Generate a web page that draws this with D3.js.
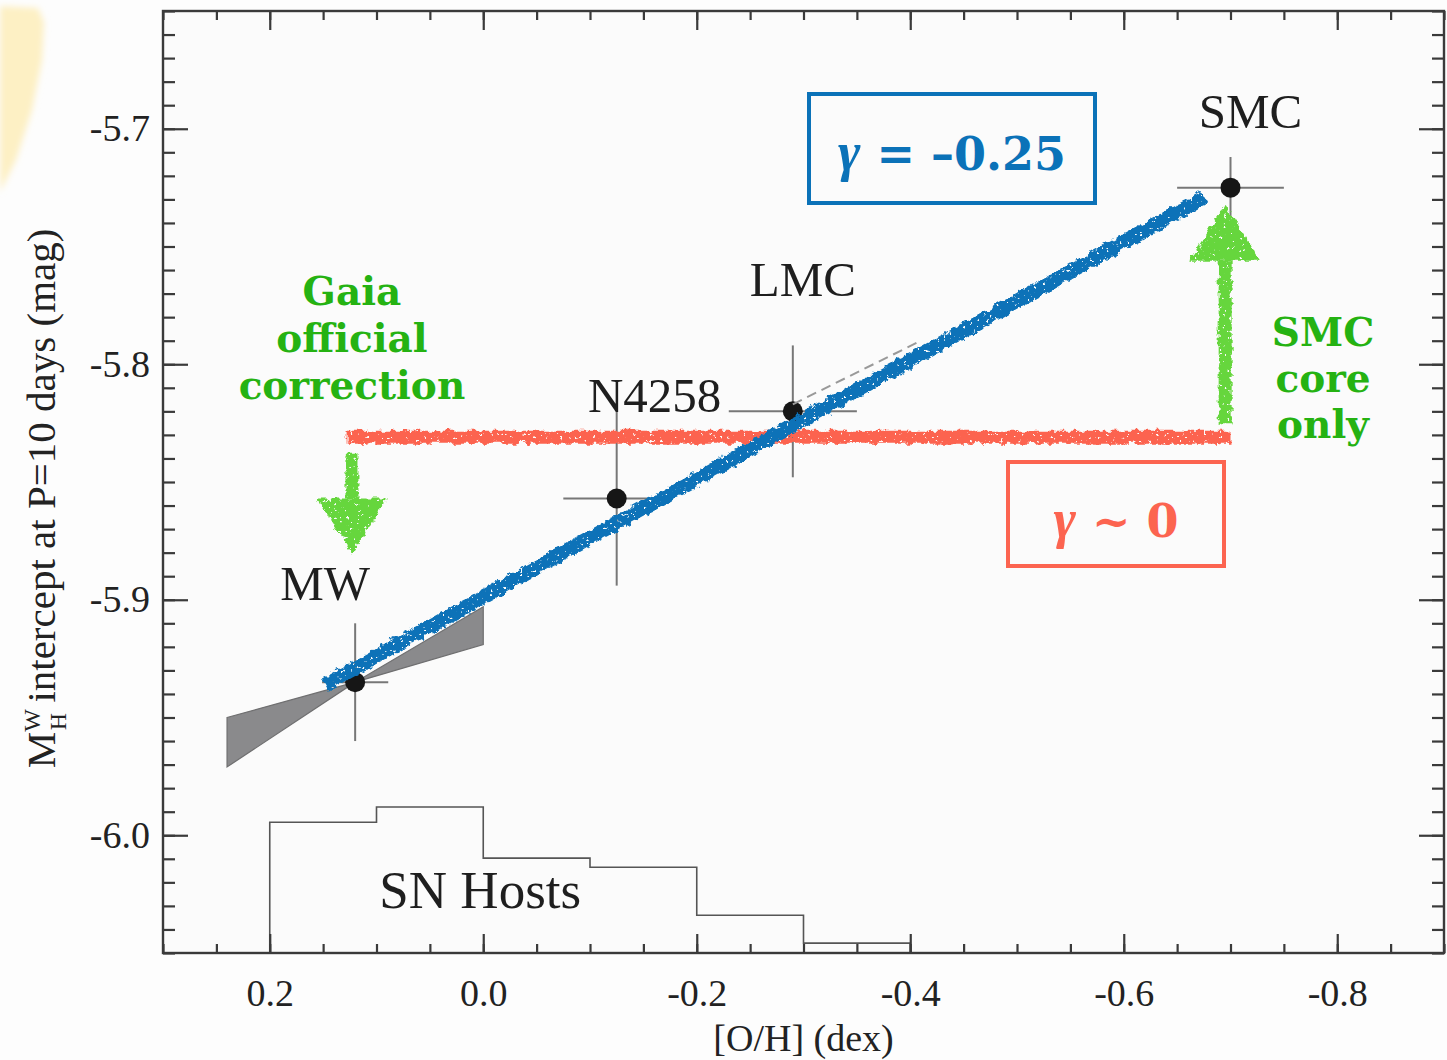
<!DOCTYPE html>
<html>
<head>
<meta charset="utf-8">
<script src="https://cdn.jsdelivr.net/npm/d3@7"></script>
<style>
  html, body { margin: 0; padding: 0; background: #fdfdfd; }
  svg { display: block; }
</style>
</head>
<body>
<svg id="chart" width="1447" height="1060"></svg>
<script>
// ---------- data ----------
const galaxies = ["MW", "N4258", "LMC", "SMC"];
const galaxyOH = [0.12, -0.125, -0.29, -0.70];
const galaxyM = [-5.935, -5.857, -5.82, -5.725];
const galaxyErrOH = [0.031, 0.05, 0.06, 0.05];
const galaxyErrM = [0.025, 0.037, 0.028, 0.013];

// SN host histogram (bin edges in [O/H], bar tops on the magnitude axis)
const hostBinEdges = [0.3, 0.2, 0.1, 0.0, -0.1, -0.2, -0.3, -0.4, -0.9];
const hostBinTops = [-6.05, -5.9945, -5.988, -6.0097, -6.0136, -6.034, -6.0458, -6.05];

// MW slope constraint wedge
const wedgeOH = [0.24, 0.12, 0.0, 0.0, 0.12, 0.24];
const wedgeM = [-5.95, -5.935, -5.903, -5.919, -5.935, -5.971];

// annotation fits
const fitBlueOH = [0.148, -0.676];
const fitBlueM = [-5.936, -5.729];
const fitRedOH = [0.128, -0.70];
const fitRedM = [-5.831, -5.831];
const fitDashOH = [-0.29, -0.41];
const fitDashM = [-5.817, -5.790];

// ticks
const xMajorTicks = [0.2, 0.0, -0.2, -0.4, -0.6, -0.8];
const yMajorTicks = [-5.7, -5.8, -5.9, -6.0];

// ---------- scales ----------
const W = 1447, H = 1060;
const x = d3.scaleLinear().domain([0.3, -0.9]).range([163, 1444]);
const y = d3.scaleLinear().domain([-6.05, -5.65]).range([953, 11]);
const fmt = v => d3.format(".1f")(v).replace("\u2212", "-");

const svg = d3.select("#chart");
const defs = svg.append("defs");

// rough hand-drawn (crayon) filter
function roughFilter(id, freq, scale) {
  const f = defs.append("filter").attr("id", id)
    .attr("filterUnits", "userSpaceOnUse")
    .attr("x", 0).attr("y", 0).attr("width", W).attr("height", H);
  f.append("feTurbulence").attr("type", "fractalNoise")
    .attr("baseFrequency", freq).attr("numOctaves", 3).attr("seed", 3).attr("result", "noise");
  f.append("feDisplacementMap").attr("in", "SourceGraphic").attr("in2", "noise")
    .attr("scale", scale).attr("xChannelSelector", "R").attr("yChannelSelector", "G")
    .attr("result", "disp");
  f.append("feTurbulence").attr("type", "fractalNoise")
    .attr("baseFrequency", 0.3).attr("numOctaves", 2).attr("seed", 11).attr("result", "noise2");
  f.append("feColorMatrix").attr("in", "noise2").attr("type", "matrix")
    .attr("values", "0 0 0 0 0  0 0 0 0 0  0 0 0 0 0  -16 0 0 0 12").attr("result", "mask");
  f.append("feComposite").attr("in", "disp").attr("in2", "mask").attr("operator", "in");
}
roughFilter("rough", 0.15, 8);

const blur = defs.append("filter").attr("id", "blur")
  .attr("x", -0.5).attr("y", -0.5).attr("width", 2).attr("height", 2);
blur.append("feGaussianBlur").attr("stdDeviation", 3);

// page background decoration (yellow sticky-note corner)
svg.append("path")
  .attr("d", "M0,6 L38,8 L44,22 L42,60 L32,110 L16,160 L0,192 Z")
  .attr("fill", "#fdf0c4").attr("filter", "url(#blur)");

// plot background
svg.append("rect")
  .attr("x", x(0.3)).attr("y", y(-5.65))
  .attr("width", x(-0.9) - x(0.3)).attr("height", y(-6.05) - y(-5.65))
  .attr("fill", "#fbfbfb");

// ---------- histogram ----------
let hd = `M${x(hostBinEdges[0])},${y(-6.05)}`;
hostBinTops.forEach((t, i) => {
  hd += ` L${x(hostBinEdges[i])},${y(t)} L${x(hostBinEdges[i + 1])},${y(t)}`;
});
svg.append("path").attr("d", hd)
  .attr("fill", "none").attr("stroke", "#555").attr("stroke-width", 1.6);

// ---------- wedge ----------
const wedgePts = wedgeOH.map((o, i) => [x(o), y(wedgeM[i])]);
svg.append("path")
  .attr("d", d3.line()(wedgePts) + "Z")
  .attr("fill", "#8a8a8c").attr("stroke", "#6f6f70").attr("stroke-width", 1.2);

// ---------- error bars & points ----------
const pts = galaxies.map((g, i) => ({
  name: g, oh: galaxyOH[i], m: galaxyM[i], eoh: galaxyErrOH[i], em: galaxyErrM[i]
}));
const eb = svg.append("g").attr("stroke", "#777").attr("stroke-width", 2);
eb.selectAll(".ev").data(pts).join("line")
  .attr("x1", d => x(d.oh)).attr("x2", d => x(d.oh))
  .attr("y1", d => y(d.m - d.em)).attr("y2", d => y(d.m + d.em));
eb.selectAll(".eh").data(pts).join("line")
  .attr("x1", d => x(d.oh - d.eoh)).attr("x2", d => x(d.oh + d.eoh))
  .attr("y1", d => y(d.m)).attr("y2", d => y(d.m));
svg.append("g").selectAll("circle").data(pts).join("circle")
  .attr("cx", d => x(d.oh)).attr("cy", d => y(d.m)).attr("r", 10)
  .attr("fill", "#161616");

// dashed original fit
svg.append("line")
  .attr("x1", x(fitDashOH[0])).attr("y1", y(fitDashM[0]))
  .attr("x2", x(fitDashOH[1])).attr("y2", y(fitDashM[1]))
  .attr("stroke", "#999").attr("stroke-width", 2).attr("stroke-dasharray", "10,6");

// ---------- hand-drawn lines ----------
const rough = svg.append("g").attr("filter", "url(#rough)");
rough.append("line")
  .attr("x1", x(fitRedOH[0])).attr("y1", y(fitRedM[0]))
  .attr("x2", x(fitRedOH[1])).attr("y2", y(fitRedM[1]))
  .attr("stroke", "#fc6450").attr("stroke-width", 13);
rough.append("line")
  .attr("x1", x(fitBlueOH[0])).attr("y1", y(fitBlueM[0]))
  .attr("x2", x(fitBlueOH[1])).attr("y2", y(fitBlueM[1]))
  .attr("stroke", "#0b72b8").attr("stroke-width", 14);

// green arrows (data units for anchor positions)
const arrows = [
  { oh: 0.123, from: -5.838, base: -5.857, tip: -5.8805 },
  { oh: -0.695, from: -5.825, base: -5.756, tip: -5.732 }
];
arrows.forEach(a => {
  const cx = x(a.oh);
  rough.append("line")
    .attr("x1", cx).attr("x2", cx).attr("y1", y(a.from)).attr("y2", y(a.base))
    .attr("stroke", "#66d63c").attr("stroke-width", 13);
  rough.append("path")
    .attr("d", `M${cx - 35},${y(a.base)} L${cx + 35},${y(a.base)} L${cx},${y(a.tip)} Z`)
    .attr("fill", "#66d63c");
});

// ---------- axes ----------
const xMinor = d3.range(0.3, -0.9001, -0.05).map(v => +v.toFixed(2));
const yMinor = d3.range(-6.05, -5.6499, 0.01).map(v => +v.toFixed(2));
const axisColor = "#3a3a3a";
const fontTick = "'Liberation Serif', 'Times New Roman', serif";

function styleAxis(g) {
  g.select(".domain").remove();
  g.selectAll("line").attr("stroke", axisColor).attr("stroke-width", 2.2);
  g.selectAll("text").attr("fill", "#222").style("font-family", fontTick).style("font-size", "38px");
}
// bottom
svg.append("g").attr("transform", `translate(0,${y(-6.05)})`)
  .call(d3.axisBottom(x).tickValues(xMinor).tickSize(-9).tickFormat("")).call(styleAxis);
svg.append("g").attr("transform", `translate(0,${y(-6.05)})`)
  .call(d3.axisBottom(x).tickValues(xMajorTicks).tickSize(-19).tickPadding(26).tickFormat(fmt))
  .call(styleAxis);
// top
svg.append("g").attr("transform", `translate(0,${y(-5.65)})`)
  .call(d3.axisTop(x).tickValues(xMinor).tickSize(-9).tickFormat("")).call(styleAxis);
svg.append("g").attr("transform", `translate(0,${y(-5.65)})`)
  .call(d3.axisTop(x).tickValues(xMajorTicks).tickSize(-19).tickFormat("")).call(styleAxis);
// left
svg.append("g").attr("transform", `translate(${x(0.3)},0)`)
  .call(d3.axisLeft(y).tickValues(yMinor).tickSize(-12).tickFormat("")).call(styleAxis);
svg.append("g").attr("transform", `translate(${x(0.3)},0)`)
  .call(d3.axisLeft(y).tickValues(yMajorTicks).tickSize(-25).tickPadding(13).tickFormat(fmt))
  .call(styleAxis);
// right
svg.append("g").attr("transform", `translate(${x(-0.9)},0)`)
  .call(d3.axisRight(y).tickValues(yMinor).tickSize(-12).tickFormat("")).call(styleAxis);
svg.append("g").attr("transform", `translate(${x(-0.9)},0)`)
  .call(d3.axisRight(y).tickValues(yMajorTicks).tickSize(-25).tickFormat("")).call(styleAxis);
// frame
svg.append("rect")
  .attr("x", x(0.3)).attr("y", y(-5.65))
  .attr("width", x(-0.9) - x(0.3)).attr("height", y(-6.05) - y(-5.65))
  .attr("fill", "none").attr("stroke", axisColor).attr("stroke-width", 2.4);

// axis titles
svg.append("text")
  .attr("x", x(-0.3)).attr("y", 1051)
  .attr("text-anchor", "middle")
  .style("font-family", fontTick).style("font-size", "38px").attr("fill", "#222")
  .text("[O/H] (dex)");

const yt = svg.append("text")
  .attr("transform", `translate(55,${y(-5.857)}) rotate(-90)`)
  .attr("text-anchor", "middle")
  .style("font-family", fontTick).style("font-size", "41px").attr("fill", "#222");
yt.append("tspan").text("M");
yt.append("tspan").attr("dy", -15).style("font-size", "24px").text("W");
yt.append("tspan").attr("dx", -21).attr("dy", 26).style("font-size", "24px").text("H");
yt.append("tspan").attr("dy", -11).text(" intercept at P=10 days (mag)");

// ---------- labels ----------
const labelFont = "'Liberation Serif', 'Times New Roman', serif";
const labelOffsets = { MW: [-30, -82], N4258: [38, -86], LMC: [10, -115], SMC: [20, -60] };
svg.append("g").selectAll("text").data(pts).join("text")
  .attr("x", d => x(d.oh) + labelOffsets[d.name][0])
  .attr("y", d => y(d.m) + labelOffsets[d.name][1])
  .attr("text-anchor", "middle")
  .style("font-family", labelFont).style("font-size", "49px").attr("fill", "#1e1e1e")
  .text(d => d.name);

svg.append("text")
  .attr("x", x(0.0) - 3).attr("y", y(-6.0307))
  .attr("text-anchor", "middle")
  .style("font-family", labelFont).style("font-size", "53px").attr("fill", "#1e1e1e")
  .text("SN Hosts");

// green annotation texts
const greenFont = "'DejaVu Serif', serif";
const gaiaLines = ["Gaia", "official", "correction"];
svg.append("g").selectAll("text").data(gaiaLines).join("text")
  .attr("x", x(0.123))
  .attr("y", (d, i) => 305 + i * 47)
  .attr("text-anchor", "middle")
  .style("font-family", greenFont).style("font-weight", "bold").style("font-size", "39px")
  .attr("fill", "#25b212")
  .text(d => d);
const smcLines = ["SMC", "core", "only"];
svg.append("g").selectAll("text").data(smcLines).join("text")
  .attr("x", 1323)
  .attr("y", (d, i) => 346 + i * 46)
  .attr("text-anchor", "middle")
  .style("font-family", greenFont).style("font-weight", "bold").style("font-size", "39px")
  .attr("fill", "#25b212")
  .text(d => d);

// boxes
const gammaFont = "'Liberation Serif', serif";
svg.append("rect").attr("x", 809).attr("y", 94).attr("width", 286).attr("height", 109)
  .attr("fill", "none").attr("stroke", "#0b72b8").attr("stroke-width", 4);
const bt = svg.append("text").attr("x", 952).attr("y", 170).attr("text-anchor", "middle")
  .style("font-family", greenFont).style("font-weight", "bold").style("font-size", "46px")
  .attr("fill", "#0b72b8");
bt.append("tspan").style("font-family", gammaFont).style("font-style", "italic")
  .style("font-size", "54px").text("γ");
bt.append("tspan").text(" = –0.25");

svg.append("rect").attr("x", 1008).attr("y", 462).attr("width", 216).attr("height", 104)
  .attr("fill", "none").attr("stroke", "#fc6450").attr("stroke-width", 4);
const rt = svg.append("text").attr("x", 1116).attr("y", 537).attr("text-anchor", "middle")
  .style("font-family", greenFont).style("font-weight", "bold").style("font-size", "46px")
  .attr("fill", "#fc6450");
rt.append("tspan").style("font-family", gammaFont).style("font-style", "italic")
  .style("font-size", "54px").text("γ");
rt.append("tspan").text(" ~ 0");
</script>
</body>
</html>
